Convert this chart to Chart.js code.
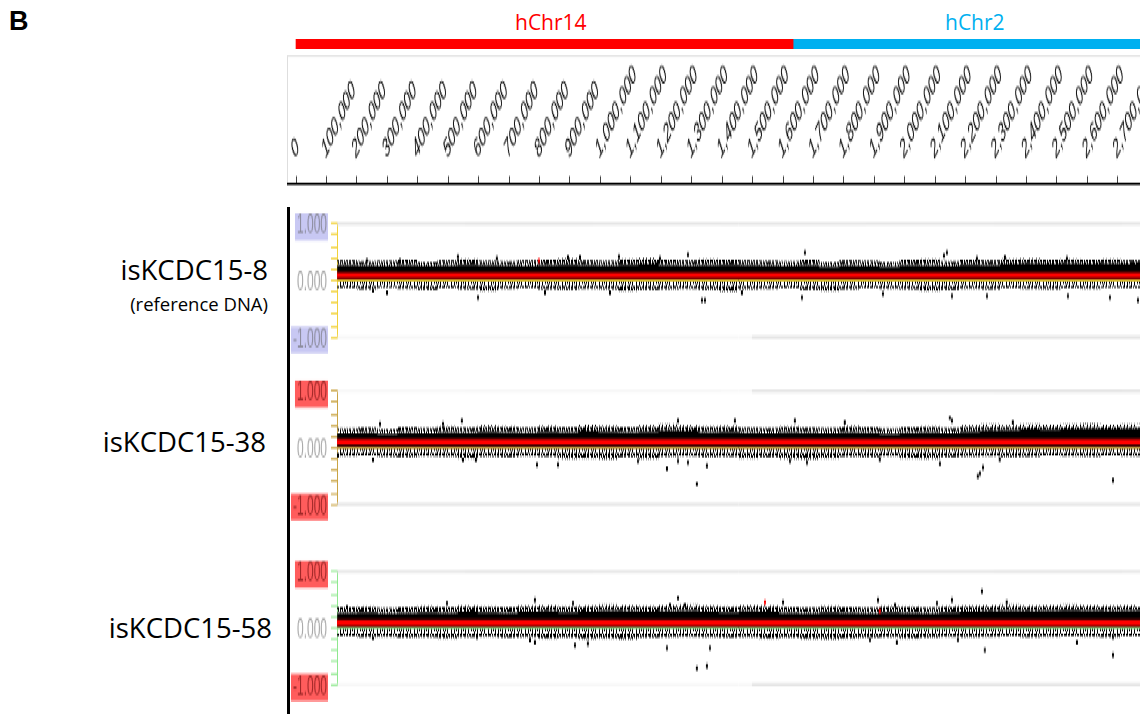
<!DOCTYPE html>
<html>
<head>
<meta charset="utf-8">
<script src="https://cdn.jsdelivr.net/npm/chart.js@4.4.1/dist/chart.umd.min.js"></script>
<style>
  html, body { margin: 0; padding: 0; background: #fff; }
  body { width: 1140px; height: 714px; position: relative; overflow: hidden; font-family: 'Liberation Sans', Arial, sans-serif; }
  .abs { position: absolute; }
  #panel { left: 287px; top: 55px; width: 853px; height: 300px; transform: scaleY(2.2); transform-origin: 0 0; }
  #rulerBox { left: 0; top: 0; width: 852px; height: 58px; border-left: 1px solid #dedede; border-top: 1px solid #e6e6e6; }
  #vline { left: 0; top: 68.6px; width: 3px; height: 232px; background: #000; z-index: 5; }
  .name { color: #000; font-family: 'Open Sans', sans-serif; font-size: 27.5px; line-height: 32px; text-align: right; width: 260px; }
  .chrom { font-family: 'Open Sans', sans-serif; font-size: 21px; line-height: 26px; }
</style>
</head>
<body>
<div class="abs" style="left:9px;top:6px;font-weight:bold;font-size:27px;">B</div>
<div class="abs chrom" style="left:515px;top:9px;color:#ff0000;">hChr14</div>
<div class="abs chrom" style="left:945px;top:9px;color:#00b0f0;">hChr2</div>
<canvas id="chrom" class="abs" width="853" height="10" style="left:287px;top:39px;"></canvas>

<div id="panel" class="abs">
  <div id="rulerBox" class="abs"></div>
  <canvas id="ruler" class="abs" width="853" height="62" style="left:0;top:0;"></canvas>
  <canvas id="t1" class="abs" width="853" height="67"></canvas>
  <canvas id="t2" class="abs" width="853" height="67"></canvas>
  <canvas id="t3" class="abs" width="853" height="67"></canvas>
  <div id="vline" class="abs"></div>
</div>

<div class="abs name" style="left:8px;top:254px;">isKCDC15-8</div>
<div class="abs name" style="left:8px;top:293px;font-size:18.5px;line-height:22px;">(reference DNA)</div>
<div class="abs name" style="left:6px;top:426px;">isKCDC15-38</div>
<div class="abs name" style="left:12px;top:612px;">isKCDC15-58</div>

<script>
// genome coordinates (bp) shown across the ruler
const rulerMin = -29600;
const rulerMax = 2772700;
const trackMin = 134700;
const trackMax = 2772700;
const rulerTicks = [0, 100000, 200000, 300000, 400000, 500000, 600000, 700000, 800000, 900000,
                    1000000, 1100000, 1200000, 1300000, 1400000, 1500000, 1600000, 1700000, 1800000, 1900000,
                    2000000, 2100000, 2200000, 2300000, 2400000, 2500000, 2600000, 2700000];

// chromosome blocks above the ruler
const chromNames = ['hChr14', 'hChr2'];
const chromStart = [0, 1633000];
const chromEnd = [1633000, 2780000];
const chromColors = ['#ff0000', '#00b0f0'];

// y axis of every track
const yMinorTicks = [-1, -0.8, -0.6, -0.4, -0.2, 0, 0.2, 0.4, 0.6, 0.8, 1];
const yTickLabels = [-1, 0, 1];

// log2 ratio bins: 66 kb windows starting at 135 kb
// top = upper edge of the dense probe cloud, crest = tips of the scattered probes above it,
// low = lower edge of the sparse probes below zero
const binStart = 135000;
const binWidth = 66000;

const t1Top = [0.27,0.26,0.25,0.27,0.25,0.26,0.28,0.27,0.26,0.25,0.27,0.28,0.27,0.26,0.28,0.29,0.27,0.26,0.27,0.28,
               0.27,0.26,0.25,0.27,0.24,0.26,0.25,0.24,0.27,0.26,0.25,0.28,0.27,0.29,0.30,0.29,0.30,0.29,0.30,0.29];
const t1Crest = [0.36,0.34,0.35,0.37,0.33,0.36,0.38,0.35,0.34,0.36,0.37,0.39,0.36,0.35,0.38,0.40,0.37,0.36,0.38,0.37,
                 0.36,0.35,0.34,0.37,0.33,0.36,0.35,0.33,0.37,0.38,0.34,0.37,0.36,0.38,0.39,0.37,0.38,0.37,0.38,0.36];
const t1Low = [-0.14,-0.16,-0.13,-0.15,-0.17,-0.14,-0.16,-0.18,-0.15,-0.14,-0.16,-0.17,-0.15,-0.16,-0.18,-0.17,-0.16,-0.15,-0.17,-0.19,
               -0.16,-0.15,-0.14,-0.17,-0.18,-0.16,-0.14,-0.15,-0.16,-0.18,-0.17,-0.15,-0.16,-0.14,-0.15,-0.16,-0.14,-0.15,-0.13,-0.14];
const t1OutX = [233000,341600,532000,660000,893500,933000,1061000,1195700,1287700,1672000,2128700,2138500,2237000,2329000,2532700,2749500,
                253000,299000,598000,818000,1031500,1333700,1343600,1465000,1662200,1928300,2155000,2270000,2536000,2674000,2766000];
const t1OutY = [0.35,0.35,0.42,0.39,0.41,0.41,0.42,0.39,0.46,0.50,0.44,0.50,0.39,0.41,0.39,0.32,
                -0.18,-0.21,-0.30,-0.21,-0.21,-0.35,-0.35,-0.21,-0.30,-0.23,-0.27,-0.27,-0.27,-0.30,-0.35];
const t1RedX = [798000];
const t1RedY = [0.35];
const t1Level = [0.09, 0.09];

const t2Top = [0.25,0.26,0.24,0.26,0.25,0.27,0.26,0.28,0.27,0.26,0.28,0.27,0.29,0.28,0.27,0.28,0.30,0.29,0.27,0.28,
               0.26,0.25,0.27,0.26,0.25,0.27,0.26,0.24,0.26,0.27,0.25,0.28,0.30,0.31,0.33,0.32,0.33,0.34,0.33,0.34];
const t2Crest = [0.34,0.36,0.33,0.37,0.35,0.38,0.36,0.40,0.38,0.36,0.39,0.37,0.41,0.39,0.37,0.40,0.42,0.40,0.38,0.39,
                 0.36,0.35,0.38,0.36,0.35,0.39,0.37,0.34,0.37,0.38,0.35,0.40,0.42,0.40,0.42,0.41,0.42,0.43,0.41,0.42];
const t2Low = [-0.15,-0.14,-0.16,-0.17,-0.15,-0.16,-0.18,-0.16,-0.17,-0.15,-0.16,-0.19,-0.18,-0.20,-0.17,-0.19,-0.16,-0.15,-0.17,-0.16,
               -0.18,-0.17,-0.19,-0.20,-0.18,-0.16,-0.17,-0.15,-0.18,-0.19,-0.17,-0.16,-0.15,-0.17,-0.16,-0.14,-0.15,-0.16,-0.14,-0.15];
const t2OutX = [276000,483000,545000,1255000,1442000,1639000,1803000,2148000,2155000,2355000,
                138000,253000,548600,591000,791700,860700,1123500,1218700,1255000,1287700,1317000,1350000,1622800,1678700,1918000,2115500,2240000,2247000,2257000,2312000,2684000];
const t2OutY = [0.42,0.42,0.48,0.48,0.48,0.48,0.45,0.53,0.48,0.45,
                -0.14,-0.21,-0.21,-0.21,-0.30,-0.30,-0.23,-0.37,-0.23,-0.26,-0.64,-0.32,-0.23,-0.26,-0.20,-0.28,-0.51,-0.46,-0.35,-0.20,-0.57];
const t2RedX = [];
const t2RedY = [];
const t2Level = [0.10, 0.10];

const t3Top = [0.27,0.28,0.26,0.27,0.28,0.27,0.29,0.28,0.27,0.29,0.30,0.28,0.29,0.31,0.30,0.29,0.30,0.31,0.29,0.28,
               0.30,0.29,0.27,0.26,0.28,0.27,0.26,0.28,0.27,0.26,0.28,0.29,0.30,0.31,0.30,0.31,0.32,0.31,0.30,0.31];
const t3Crest = [0.37,0.38,0.35,0.37,0.39,0.37,0.40,0.38,0.37,0.40,0.41,0.38,0.40,0.42,0.41,0.39,0.41,0.42,0.40,0.38,
                 0.41,0.40,0.37,0.36,0.39,0.37,0.36,0.39,0.38,0.36,0.39,0.40,0.41,0.42,0.40,0.41,0.42,0.41,0.40,0.41];
const t3Low = [-0.14,-0.16,-0.15,-0.17,-0.16,-0.18,-0.16,-0.15,-0.17,-0.16,-0.18,-0.17,-0.19,-0.18,-0.20,-0.17,-0.16,-0.15,-0.16,-0.17,
               -0.16,-0.18,-0.17,-0.19,-0.20,-0.18,-0.17,-0.16,-0.18,-0.17,-0.15,-0.16,-0.15,-0.14,-0.16,-0.15,-0.14,-0.15,-0.16,-0.14];
const t3OutX = [167500,496000,785000,910000,1228600,1255000,1278000,1600000,1912000,1968000,2105700,2155000,2253500,2335000,
                253000,594600,768700,785000,916500,959000,1218700,1317000,1350000,1360000,1885600,1974000,2174600,2263000,2565600,2684000,2684000];
const t3OutY = [0.37,0.44,0.50,0.44,0.41,0.53,0.41,0.46,0.50,0.41,0.44,0.50,0.65,0.46,
                -0.18,-0.16,-0.21,-0.25,-0.30,-0.27,-0.35,-0.71,-0.67,-0.35,-0.20,-0.25,-0.20,-0.39,-0.25,-0.16,-0.48];
const t3RedX = [1540700, 1918000];
const t3RedY = [0.46, 0.30];
const t3Level = [0.09, 0.09];

Chart.defaults.font.family = "'Liberation Sans', Arial, sans-serif";

// chromosome colour bar
new Chart(document.getElementById('chrom'), {
  type: 'bar',
  data: {
    labels: [''],
    datasets: chromNames.map((n, i) => ({
      label: n,
      data: [[chromStart[i], chromEnd[i]]],
      backgroundColor: chromColors[i],
      grouped: false,
      barPercentage: 1,
      categoryPercentage: 1
    }))
  },
  options: {
    indexAxis: 'y',
    responsive: false,
    animation: false,
    layout: { padding: 0, autoPadding: false },
    plugins: { legend: { display: false }, tooltip: { enabled: false } },
    scales: {
      x: { type: 'linear', display: false, min: rulerMin, max: rulerMax },
      y: { display: false }
    }
  }
});

// position ruler
new Chart(document.getElementById('ruler'), {
  type: 'line',
  data: { datasets: [] },
  options: {
    responsive: false,
    animation: false,
    layout: { padding: 0, autoPadding: false },
    plugins: { legend: { display: false }, tooltip: { enabled: false } },
    scales: {
      x: {
        type: 'linear',
        position: 'top',
        min: rulerMin,
        max: rulerMax,
        afterBuildTicks: s => { s.ticks = rulerTicks.map(v => ({ value: v })); },
        afterFit: s => { s.height = 58.6; s.paddingLeft = 0; s.paddingRight = 0; },
        border: { color: '#000', width: 1 },
        grid: { drawOnChartArea: false, tickLength: 3.6, tickColor: '#111', tickWidth: 0.8 },
        ticks: {
          autoSkip: false,
          minRotation: 45,
          maxRotation: 45,
          padding: 5,
          labelOffset: 7,
          color: '#000',
          font: { size: 12, style: 'italic' },
          callback: v => v.toLocaleString('en-US')
        }
      },
      y: { display: false }
    }
  }
});

// irregular short vertical dashes, used for the sparse probes around the dense band
function dashPattern() {
  const rows = [
    [0, 1, 2, 4, 5, 7, 8, 9, 11, 13, 14, 16, 17, 18, 20, 22, 23, 25, 26, 28, 29, 30, 32, 34, 35],
    [0, 1, 2, 4, 5, 8, 9, 11, 12, 14, 16, 18, 20, 21, 23, 25, 26, 29, 30, 32, 33, 35, 36],
    [1, 3, 5, 8, 10, 12, 16, 19, 21, 23, 26, 28, 30, 33, 36],
    [2, 5, 9, 12, 16, 19, 23, 26, 30, 33]
  ];
  const tile = document.createElement('canvas');
  tile.width = 37;
  tile.height = rows.length;
  const g = tile.getContext('2d');
  g.fillStyle = '#000';
  rows.forEach((cols, r) => cols.forEach(c => g.fillRect(c, r, 1, 1)));
  return g.createPattern(tile, 'repeat');
}
const fringe = dashPattern();

// +1/-1 frame lines under the data, zero line over it
const trackLines = {
  id: 'trackLines',
  beforeDatasetsDraw(chart, args, opts) {
    const { ctx, chartArea, scales: { x, y } } = chart;
    ctx.save();
    ctx.lineWidth = 0.7;
    [1, -1].forEach((v, i) => {
      const py = y.getPixelForValue(v);
      ctx.strokeStyle = '#efefef';
      ctx.beginPath(); ctx.moveTo(chartArea.left, py); ctx.lineTo(chartArea.right, py); ctx.stroke();
      ctx.strokeStyle = '#d2d2d2';
      ctx.beginPath(); ctx.moveTo(x.getPixelForValue(opts.from[i]), py); ctx.lineTo(chartArea.right, py); ctx.stroke();
    });
    ctx.restore();
  },
  afterDatasetsDraw(chart, args, opts) {
    const { ctx, chartArea, scales: { y } } = chart;
    const py = y.getPixelForValue(0);
    ctx.save();
    ctx.strokeStyle = opts.zero;
    ctx.lineWidth = 0.9;
    ctx.beginPath(); ctx.moveTo(chartArea.left, py); ctx.lineTo(chartArea.right, py); ctx.stroke();
    ctx.restore();
  }
};

function binPoints(vals) {
  const pts = vals.map((v, i) => ({ x: binStart + i * binWidth, y: v }));
  pts.push({ x: trackMax, y: vals[vals.length - 1] });
  return pts;
}

function pairPoints(xs, ys) {
  return xs.map((x, i) => ({ x: x, y: ys[i] }));
}

function drawTrack(id, top, t) {
  const el = document.getElementById(id);
  el.style.left = '0px';
  el.style.top = top + 'px';
  const isLabel = v => yTickLabels.some(l => Math.abs(l - v) < 1e-6);
  const isEdge = v => Math.abs(Math.abs(v) - 1) < 1e-6;
  new Chart(el, {
    type: 'line',
    data: {
      datasets: [
        { data: binPoints(t.low), stepped: true, fill: { value: -0.02 }, backgroundColor: fringe, borderWidth: 0, pointRadius: 0, order: 6 },
        { data: binPoints(t.top), stepped: true, fill: { value: -0.02 }, backgroundColor: '#000', borderWidth: 0, pointRadius: 0, order: 4 },
        { data: binPoints(t.crest), stepped: true, fill: 1, backgroundColor: fringe, borderWidth: 0, pointRadius: 0, order: 5 },
        { type: 'scatter', data: pairPoints(t.outX, t.outY), pointStyle: 'rect', pointRadius: 1.4, backgroundColor: '#000', borderWidth: 0, order: 3 },
        { type: 'scatter', data: pairPoints(t.redX, t.redY), pointStyle: 'rect', pointRadius: 1.4, backgroundColor: '#ff0000', borderWidth: 0, order: 2 },
        {
          data: [
            { x: trackMin, y: t.level[0] }, { x: chromStart[1], y: t.level[0] },
            { x: chromStart[1], y: t.level[1] }, { x: trackMax, y: t.level[1] }
          ],
          borderColor: '#ff0000', borderWidth: 2.7, pointRadius: 0, fill: false, order: 1
        }
      ]
    },
    options: {
      responsive: false,
      animation: false,
      layout: { padding: { top: 7.8, bottom: 7.8, left: 0, right: 0 }, autoPadding: false },
      plugins: {
        legend: { display: false },
        tooltip: { enabled: false },
        trackLines: { from: t.from, zero: t.axis }
      },
      scales: {
        x: { type: 'linear', display: false, min: trackMin, max: trackMax },
        y: {
          min: -1,
          max: 1,
          afterBuildTicks: s => { s.ticks = yMinorTicks.map(v => ({ value: v })); },
          afterFit: s => { s.width = 50; s.paddingTop = 0; s.paddingBottom = 0; },
          border: { color: t.axis, width: 1 },
          grid: { drawOnChartArea: false, tickLength: 6, tickColor: t.axis, tickWidth: 0.8 },
          ticks: {
            autoSkip: false,
            padding: 4,
            labelOffset: 1.3,
            callback: v => isLabel(v) ? v.toFixed(3) : '',
            color: c => isEdge(c.tick.value) ? t.ink : '#a6a6a6',
            showLabelBackdrop: true,
            backdropColor: c => isEdge(c.tick.value) ? t.bg : 'rgba(0,0,0,0)',
            backdropPadding: { left: 2, right: 1, top: 0, bottom: 0 },
            font: { size: 12, lineHeight: 1.02 }
          }
        }
      }
    },
    plugins: [trackLines]
  });
}

drawTrack('t1', 68.8, { top: t1Top, crest: t1Crest, low: t1Low, outX: t1OutX, outY: t1OutY, redX: t1RedX, redY: t1RedY, level: t1Level,
  axis: '#f1d23a', ink: '#8d8d9e', bg: '#c8c8f3', from: [trackMin, 1498000] });
drawTrack('t2', 144.5, { top: t2Top, crest: t2Crest, low: t2Low, outX: t2OutX, outY: t2OutY, redX: t2RedX, redY: t2RedY, level: t2Level,
  axis: '#c9a445', ink: '#a02828', bg: '#ff5c5c', from: [1498000, trackMin] });
drawTrack('t3', 227.2, { top: t3Top, crest: t3Crest, low: t3Low, outX: t3OutX, outY: t3OutY, redX: t3RedX, redY: t3RedY, level: t3Level,
  axis: '#8fe88f', ink: '#a02828', bg: '#ff5c5c', from: [trackMin, 1498000] });
</script>
</body>
</html>
